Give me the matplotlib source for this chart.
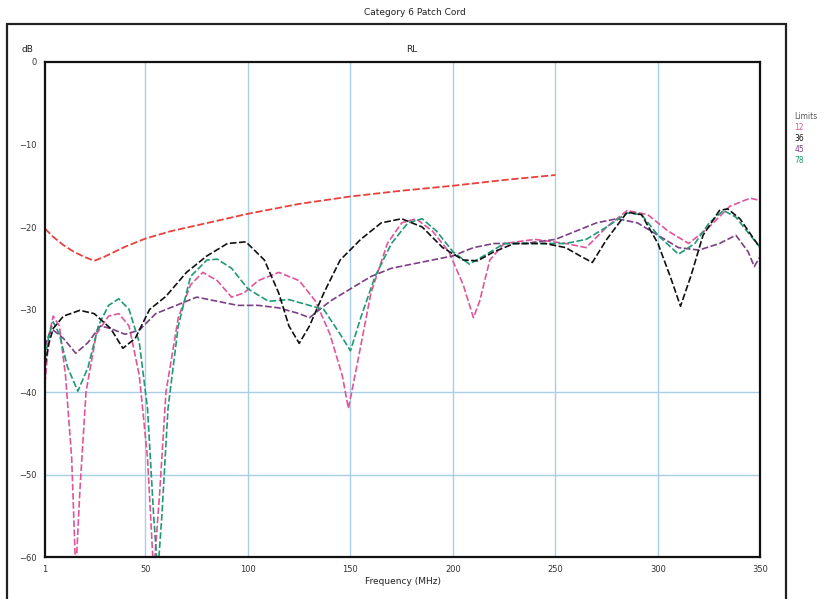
import matplotlib
matplotlib.use("Agg")
import matplotlib.pyplot as plt
from matplotlib.patches import Rectangle

# frequency (MHz) / return loss (dB)
limit_f = [1, 5, 10, 15, 20, 25, 30, 40, 50, 62.5, 75, 100, 125, 150, 175, 200, 225, 250]
limit_db = [-20.2, -21.2, -22.2, -23, -23.6, -24.1, -23.6, -22.4, -21.4, -20.5, -19.8, -18.4,
            -17.2, -16.3, -15.6, -15, -14.3, -13.7]

p12_f = [1, 3, 5, 8, 11, 14, 16, 18, 21, 26, 32, 37, 42, 47, 51, 54, 57, 60, 66, 72, 78, 85,
         92, 98, 105, 115, 125, 133, 140, 146, 149, 153, 160, 168, 175, 182, 190, 198, 205, 210,
         213, 218, 225, 240, 255, 265, 275, 285, 295, 305, 315, 325, 335, 345, 350]
p12_db = [-39, -33, -30.8, -32, -38, -48, -62, -52, -40, -33, -30.8, -30.5, -32, -38, -48, -62,
          -52, -40, -31, -27, -25.5, -26.5, -28.5, -28, -26.5, -25.5, -26.5, -29, -33, -38, -42,
          -37, -28, -22, -19.5, -19, -20.5, -23, -27, -31, -29, -24, -22, -21.5, -22, -22.5, -20,
          -18, -18.5, -20.5, -22, -20, -17.5, -16.5, -16.8]

p36_f = [1, 3, 5, 10, 18, 25, 33, 39, 45, 52, 60, 70, 80, 90, 99, 108, 115, 120, 125, 130, 137,
         145, 155, 165, 175, 185, 195, 205, 212, 220, 230, 245, 255, 262, 268, 275, 285, 292, 300,
         306, 311, 316, 322, 330, 334, 340, 350]
p36_db = [-36.7, -34, -32.3, -30.8, -30.1, -30.5, -32.3, -34.7, -33.5, -30, -28.4, -25.5, -23.5,
          -22, -21.8, -24, -28, -32, -34.1, -32, -28, -24, -21.5, -19.5, -19, -20, -22.5, -24,
          -24.1, -23, -22, -22, -22.5, -23.5, -24.3, -21.5, -18.2, -18.5, -22, -26, -29.6, -26,
          -21, -18, -17.8, -19, -22.6]

p45_f = [1, 3, 5, 10, 16, 22, 28, 33, 40, 47, 55, 65, 75, 85, 95, 105, 115, 125, 130, 140, 150,
         160, 170, 180, 190, 200, 210, 220, 235, 250, 260, 270, 280, 290, 300, 310, 320, 330, 338,
         344, 347, 350]
p45_db = [-34.5, -33, -32.5, -33.5, -35.3, -34, -32, -32.3, -33, -32.5, -30.5, -29.5, -28.5, -29,
          -29.5, -29.5, -29.8, -30.5, -31, -29, -27.5, -26, -25, -24.5, -24, -23.5, -22.5, -22,
          -22, -21.5, -20.5, -19.5, -19, -19.5, -21, -22.5, -22.8, -22, -21, -23, -24.8, -23.5]

p78_f = [1, 3, 5, 8, 12, 17, 22, 27, 32, 37, 42, 47, 51, 54, 56, 58, 61, 66, 72, 80, 85, 92, 100,
         110, 120, 130, 137, 145, 150, 155, 162, 170, 178, 185, 192, 200, 208, 215, 225, 240, 255,
         265, 275, 285, 292, 300, 310, 318, 325, 332, 338, 345, 350]
p78_db = [-36, -33, -31.5, -33, -37, -39.9, -37, -32, -29.5, -28.7, -30, -34, -42, -55, -62, -55,
          -42, -32, -26, -24, -23.9, -25, -27.5, -29, -28.8, -29.5, -30, -33, -35, -31, -26, -22,
          -19.5, -19, -20.5, -23, -24.5, -23.5, -22, -22, -22, -21.5, -20, -18.3, -18.5, -21,
          -23.3, -22, -19.5, -18, -18.8, -21, -22.5]

x_ticks = [1, 50, 100, 150, 200, 250, 300, 350]
y_ticks = [0, -10, -20, -30, -40, -50, -60]
x_grid = [50, 100, 150, 200, 250, 300]
y_grid = [-40, -50]

legend_names = ['Limits', '12', '36', '45', '78']
legend_colors = ['#555555', '#e0559a', '#111111', '#7b3f86', '#1f9a74']

fig = plt.figure(figsize=(8.29, 5.99), dpi=100)
fig.patches.append(Rectangle((0.008, -0.01), 0.94, 0.97, transform=fig.transFigure,
                             fill=False, edgecolor='#222222', linewidth=1.6))
fig.text(0.5, 0.979, 'Category 6 Patch Cord', ha='center', va='center', fontsize=6.5, color='#222222')
fig.text(0.033, 0.917, 'dB', ha='center', va='center', fontsize=6.5, color='#222222')
fig.text(0.497, 0.917, 'RL', ha='center', va='center', fontsize=6.5, color='#222222')

ax = fig.add_axes([0.0543, 0.0701, 0.863, 0.8264])
for x in x_grid:
    ax.axvline(x, color='#a9cfe6', linewidth=1.0, zorder=0)
for y in y_grid:
    ax.axhline(y, color='#a9cfe6', linewidth=1.0, zorder=0)

ls = (0, (4, 1.5))
ax.plot(limit_f, limit_db, color='#e8413c', linewidth=1.3, linestyle=ls)
ax.plot(p12_f, p12_db, color='#e0559a', linewidth=1.2, linestyle=ls)
ax.plot(p45_f, p45_db, color='#7b3f86', linewidth=1.2, linestyle=ls)
ax.plot(p78_f, p78_db, color='#1f9a74', linewidth=1.2, linestyle=ls)
ax.plot(p36_f, p36_db, color='#111111', linewidth=1.2, linestyle=ls)

ax.set_xlim(1, 350)
ax.set_ylim(-60, 0)
ax.set_xticks(x_ticks)
ax.set_yticks(y_ticks)
ax.tick_params(length=0, labelsize=6, colors='#333333', pad=6)
for s in ax.spines.values():
    s.set_linewidth(1.6)
    s.set_color('#111111')
ax.set_xlabel('Frequency (MHz)', fontsize=6.5, color='#222222', labelpad=2)

for i, (name, col) in enumerate(zip(legend_names, legend_colors)):
    fig.text(0.958, 0.806 - i * 0.0185, name, fontsize=5.5, color=col, va='center')

fig.savefig('out.png', dpi=100)
